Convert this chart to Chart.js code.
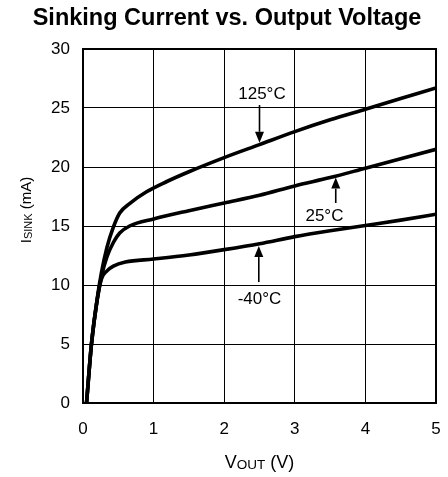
<!DOCTYPE html>
<html>
<head>
<meta charset="utf-8">
<script src="https://cdn.jsdelivr.net/npm/chart.js@4/dist/chart.umd.min.js"></script>
<style>
html,body{margin:0;padding:0;background:#fff;}
#wrap{width:448px;height:477px;position:relative;}
</style>
</head>
<body>
<div id="wrap"><canvas id="c" width="448" height="477"></canvas></div>
<script>
const FONT = '"Liberation Sans", Arial, Helvetica, sans-serif';

// Data (Vout in V, Isink in mA)
const vM40 = [0.05,0.12,0.2,0.26,0.34,0.43,0.6,1,1.5,2,2.5,3,3.5,4,4.5,5];
const iM40 = [0,5,8.7,10.5,11.2,11.6,11.95,12.2,12.55,13,13.5,14.1,14.6,15.05,15.5,16.0];
const v25 = [0.05,0.12,0.2,0.26,0.34,0.43,0.52,0.66,1,1.5,2,2.5,3,3.5,4,4.5,5];
const i25 = [0,5,8.7,10.7,12.4,13.6,14.4,15.0,15.6,16.3,16.95,17.6,18.4,19.1,19.9,20.7,21.5];
const v125 = [0.05,0.12,0.2,0.26,0.34,0.43,0.52,0.66,0.9,1.18,1.5,2,2.5,3,3.5,4,4.5,5];
const i125 = [0,5,8.8,11,13.2,14.9,16.1,16.9,17.9,18.75,19.6,20.8,21.9,23.0,24.0,24.9,25.8,26.7];

const xTicks = [0,1,2,3,4,5];
const yTicks = [0,5,10,15,20,25,30];

// Curve labels: text position and arrow (start -> tip), in data units
const labels = [
  {text:'125°C', tx:2.535, ty:26.27, ax:2.5, ay0:25.25, ay1:22.05, bg:false},
  {text:'25°C',  tx:3.42,  ty:15.93, ax:3.58, ay0:16.95, ay1:19.1, bg:true},
  {text:'-40°C', tx:2.5,   ty:8.9,   ax:2.49, ay0:10.25, ay1:13.3, bg:true}
];

function pts(xs, ys){ return xs.map((x,i)=>({x:x, y:ys[i]})); }

const frame = {
  id:'frame',
  afterDatasetsDraw(chart){
    const {ctx, chartArea:a, scales:{x, y}} = chart;
    ctx.save();
    ctx.font = '17px ' + FONT;
    ctx.textAlign = 'center';
    ctx.textBaseline = 'middle';
    labels.forEach(l=>{
      const px = x.getPixelForValue(l.tx), py = y.getPixelForValue(l.ty);
      if (l.bg){
        const w = ctx.measureText(l.text).width;
        ctx.fillStyle = '#fff';
        ctx.fillRect(px - w/2 - 3, py - 10, w + 6, 20);
      }
      ctx.fillStyle = '#000';
      ctx.fillText(l.text, px, py + 1);
      const ax = x.getPixelForValue(l.ax);
      const y0 = y.getPixelForValue(l.ay0), y1 = y.getPixelForValue(l.ay1);
      const dir = y1 > y0 ? 1 : -1;
      const head = 11;
      ctx.strokeStyle = '#000';
      ctx.lineWidth = 1.6;
      ctx.beginPath();
      ctx.moveTo(ax, y0);
      ctx.lineTo(ax, y1 - dir*head);
      ctx.stroke();
      ctx.beginPath();
      ctx.moveTo(ax, y1);
      ctx.lineTo(ax - 4.5, y1 - dir*head);
      ctx.lineTo(ax + 4.5, y1 - dir*head);
      ctx.closePath();
      ctx.fill();
    });
    ctx.strokeStyle = '#000';
    ctx.lineWidth = 2;
    ctx.strokeRect(Math.round(a.left), Math.round(a.top), Math.round(a.right - a.left), Math.round(a.bottom - a.top));
    ctx.restore();
  },
  afterDraw(chart){
    const {ctx, chartArea:a} = chart;
    ctx.save();
    ctx.fillStyle = '#000';
    ctx.textBaseline = 'alphabetic';
    ctx.font = 'bold 23.5px ' + FONT;
    ctx.textAlign = 'center';
    ctx.fillText('Sinking Current vs. Output Voltage', 227, 25);
    ctx.textAlign = 'left';
    const drawMixed = (parts)=>{
      let w = 0;
      parts.forEach(p=>{ ctx.font = p[1]; w += ctx.measureText(p[0]).width; });
      let cx = -w/2;
      parts.forEach(p=>{ ctx.font = p[1]; ctx.fillText(p[0], cx, p[2]); cx += ctx.measureText(p[0]).width; });
    };
    ctx.save();
    ctx.translate((a.left + a.right)/2, 468);
    drawMixed([['V', '18px ' + FONT, 0], ['OUT', '13.5px ' + FONT, 1], [' (V)', '18px ' + FONT, 0]]);
    ctx.restore();
    ctx.save();
    ctx.translate(31, 210);
    ctx.rotate(-Math.PI/2);
    drawMixed([['I', '15px ' + FONT, 0], ['SINK', '11px ' + FONT, 1], [' (mA)', '15px ' + FONT, 0]]);
    ctx.restore();
    ctx.restore();
  }
};

const ds = (data)=>({
  data: data, borderColor:'#000', borderWidth:3.6, pointRadius:0,
  fill:false, cubicInterpolationMode:'monotone', borderCapStyle:'round', borderJoinStyle:'round'
});

new Chart(document.getElementById('c'), {
  type:'line',
  data:{ datasets:[ ds(pts(v125,i125)), ds(pts(v25,i25)), ds(pts(vM40,iM40)) ] },
  options:{
    responsive:false, animation:false, devicePixelRatio:1,
    layout:{ padding:{ left:0, right:12, top:49, bottom:0 } },
    plugins:{ legend:{display:false}, title:{display:false}, tooltip:{enabled:false} },
    scales:{
      x:{ type:'linear', min:0, max:5,
        afterBuildTicks(s){ s.ticks = xTicks.map(v=>({value:v})); },
        afterFit(s){ s.height = 74; s.paddingLeft = 0; s.paddingRight = 0; },
        grid:{ color:'#000', lineWidth:1, drawTicks:false },
        border:{ display:true, color:'#000', width:2 },
        ticks:{ color:'#000', padding:16, font:{ family:FONT, size:17 }, maxRotation:0 } },
      y:{ type:'linear', min:0, max:30,
        afterBuildTicks(s){ s.ticks = yTicks.map(v=>({value:v})); },
        afterFit(s){ s.width = 83; s.paddingTop = 0; s.paddingBottom = 0; },
        grid:{ color:'#000', lineWidth:1, drawTicks:false },
        border:{ display:true, color:'#000', width:2 },
        ticks:{ color:'#000', padding:13, font:{ family:FONT, size:17 } } }
    }
  },
  plugins:[frame]
});
</script>
</body>
</html>
